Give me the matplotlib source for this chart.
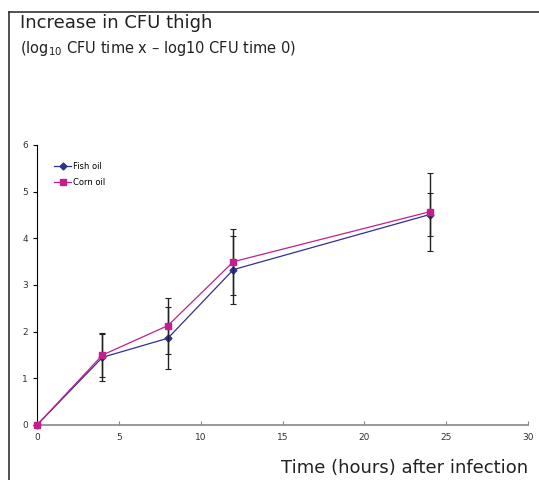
"""
Increase in CFU thigh: fish oil vs corn oil, with error bars.
"""
import matplotlib.pyplot as plt
from matplotlib.lines import Line2D

# data
hours = [0, 4, 8, 12, 24]
fish_oil = [0, 1.45, 1.86, 3.33, 4.51]
fish_err = [0, 0.50, 0.66, 0.73, 0.47]
corn_oil = [0, 1.50, 2.13, 3.50, 4.57]
corn_err = [0, 0.48, 0.60, 0.71, 0.84]

fish_col = "#2e3192"
corn_col = "#c41e8c"

fig = plt.figure(figsize=(5.39, 4.8), dpi=100)
ax = fig.add_axes([37 / 539, 1 - 425 / 480, (528 - 37) / 539, (425 - 145) / 480])

# frame lines on left and top of the figure
fig.add_artist(Line2D([8.5 / 539, 8.5 / 539], [0, 1 - 11.5 / 480], color="#333333", lw=1.2))
fig.add_artist(Line2D([8.5 / 539, 1], [1 - 11.5 / 480, 1 - 11.5 / 480], color="#333333", lw=1.2))

ax.errorbar(hours, fish_oil, yerr=fish_err, color=fish_col, marker="D", ms=3.5,
            lw=0.9, ecolor="#222222", elinewidth=1.0, capsize=2, capthick=0.8,
            label="Fish oil", clip_on=False, zorder=3)
ax.errorbar(hours, corn_oil, yerr=corn_err, color=corn_col, marker="s", ms=5,
            lw=0.9, ecolor="#222222", elinewidth=1.0, capsize=2, capthick=0.8,
            label="Corn oil", clip_on=False, zorder=4)

ax.set_xlim(0, 30)
ax.set_ylim(0, 6)
ax.set_xticks(range(0, 31, 5))
ax.set_yticks(range(0, 7))

for s in ["top", "right"]:
    ax.spines[s].set_visible(False)
ax.spines["left"].set_color("black")
ax.spines["bottom"].set_color("#888888")
ax.spines["bottom"].set_linewidth(1.2)

ax.tick_params(axis="x", direction="in", length=3, colors="#888888",
               labelcolor="#333333", labelsize=6.5, pad=6)
ax.tick_params(axis="y", direction="out", length=3, colors="black",
               labelcolor="#333333", labelsize=6.5)

# legend without error bars
handles = [Line2D([], [], color=fish_col, marker="D", ms=3.5, lw=0.9),
           Line2D([], [], color=corn_col, marker="s", ms=5, lw=0.9)]
ax.legend(handles, ["Fish oil", "Corn oil"], loc="upper left",
          bbox_to_anchor=(0.02, 0.965), frameon=False, fontsize=6,
          handlelength=2.0, handletextpad=0.3, labelspacing=0.8)

fig.text(20 / 539, 1 - 23 / 480, "Increase in CFU thigh", fontsize=13,
         color="#222222", va="center")
fig.text(20 / 539, 1 - 48 / 480, r"(log$_{10}$ CFU time x – log10 CFU time 0)",
         fontsize=10.5, color="#222222", va="center")
ax.set_xlabel("Time (hours) after infection", fontsize=13, color="#222222",
              loc="right", labelpad=12)

plt.savefig("out.png", dpi=100)
